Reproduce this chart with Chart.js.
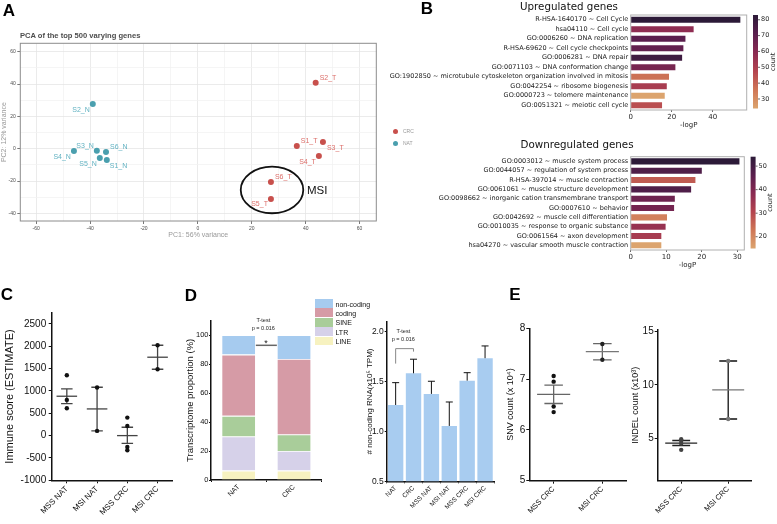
<!DOCTYPE html>
<html>
<head>
<meta charset="utf-8">
<script src="https://cdn.jsdelivr.net/npm/chart.js@4.4.1/dist/chart.umd.min.js"></script>
<style>
html, body { margin: 0; padding: 0; background: #fff; }
#fig { position: relative; width: 777px; height: 524px; overflow: hidden; background: #fff; font-family: 'Liberation Sans', Arial, sans-serif; }
#fig canvas { position: absolute; }
.t { position: absolute; white-space: nowrap; line-height: 1; }
</style>
</head>
<body>
<div id="fig"></div>
<script>
// ---------- data ----------
// A: PCA
const pcaNames = ['S1_N', 'S2_N', 'S3_N', 'S4_N', 'S5_N', 'S6_N', 'S1_T', 'S2_T', 'S3_T', 'S4_T', 'S5_T', 'S6_T'];
const pcaGroup = ['NAT', 'NAT', 'NAT', 'NAT', 'NAT', 'NAT', 'CRC', 'CRC', 'CRC', 'CRC', 'CRC', 'CRC'];
const pcaPC1 = [-33.8, -39.0, -37.5, -46.0, -36.4, -34.1, 36.7, 43.7, 46.4, 44.9, 27.1, 27.1];
const pcaPC2 = [-7.0, 27.6, -1.2, -1.4, -5.8, -2.0, 1.7, 40.8, 4.1, -4.5, -31.1, -20.6];
const pcaXTicks = [-60, -50, -40, -30, -20, -10, 0, 10, 20, 30, 40, 50, 60];
const pcaYTicks = [-40, -30, -20, -10, 0, 10, 20, 30, 40, 50, 60];
const msiEllipse = { pc1: 27.5, pc2: -25.5, r1: 11.6, r2: 14.4 };

// B: enrichment
const upTerms = [
    'R-HSA-1640170 ~ Cell Cycle',
    'hsa04110 ~ Cell cycle',
    'GO:0006260 ~ DNA replication',
    'R-HSA-69620 ~ Cell cycle checkpoints',
    'GO:0006281 ~ DNA repair',
    'GO:0071103 ~ DNA conformation change',
    'GO:1902850 ~ microtubule cytoskeleton organization involved in mitosis',
    'GO:0042254 ~ ribosome biogenesis',
    'GO:0000723 ~ telomere maintenance',
    'GO:0051321 ~ meiotic cell cycle',
];
const upLogP = [53.8, 31.0, 27.0, 26.0, 25.4, 22.1, 19.0, 17.9, 16.9, 15.6];
const upCount = [83, 58, 71, 69, 78, 64, 37, 51, 24, 45];
const upLogPTicks = [0, 20, 40];
const upCountTicks = [30, 40, 50, 60, 70, 80];

const downTerms = [
    'GO:0003012 ~ muscle system process',
    'GO:0044057 ~ regulation of system process',
    'R-HSA-397014 ~ muscle contraction',
    'GO:0061061 ~ muscle structure development',
    'GO:0098662 ~ inorganic cation transmembrane transport',
    'GO:0007610 ~ behavior',
    'GO:0042692 ~ muscle cell differentiation',
    'GO:0010035 ~ response to organic substance',
    'GO:0061564 ~ axon development',
    'hsa04270 ~ vascular smooth muscle contraction',
];
const downLogP = [30.8, 20.2, 18.4, 17.2, 12.6, 12.4, 10.4, 10.0, 8.8, 8.8];
const downCount = [54, 48, 27, 48, 43, 42, 21, 36, 33, 15];
const downLogPTicks = [0, 10, 20, 30];
const downCountTicks = [20, 30, 40, 50];

// C: immune score
const immuneGroups = ['MSS NAT', 'MSI NAT', 'MSS CRC', 'MSI CRC'];
const immunePoints = [[1351, 799, 612], [1075, 105], [403, 216, -254, -328], [2022, 1485]];
const immuneMean = [881, 597, 0, 1754];
const immuneLow = [716, 105, -172, 1485];
const immuneHigh = [1045, 1082, 187, 2022];
const immuneTicks = [-1000, -500, 0, 500, 1000, 1500, 2000, 2500];

// D: transcriptome proportion
const propGroups = ['NAT', 'CRC'];
const propSeries = ['non-coding', 'coding', 'SINE', 'LTR', 'LINE'];
const propNonCoding = [13.4, 16.4];
const propCoding = [42.3, 52.2];
const propSINE = [14.3, 11.4];
const propLTR = [23.5, 13.5];
const propLINE = [6.5, 6.5];
const propTicks = [0, 20, 40, 60, 80, 100];
const propSigLevel = 93;

// D: non-coding RNA
const ncGroups = ['NAT', 'CRC', 'MSS NAT', 'MSI NAT', 'MSS CRC', 'MSI CRC'];
const ncMean = [1.265, 1.583, 1.376, 1.055, 1.509, 1.734];
const ncErrTop = [1.489, 1.724, 1.503, 1.295, 1.589, 1.857];
const ncTicks = [0.5, 1.0, 1.5, 2.0];
const ncBracket = { from: 0, to: 1, top: 1.83, leg: 1.68 };

// E: mutations
const mutGroups = ['MSS CRC', 'MSI CRC'];
const snvPoints = [[7.06, 6.95, 6.46, 6.35], [7.69, 7.38]];
const snvMean = [6.70, 7.54];
const snvLow = [6.52, 7.38];
const snvHigh = [6.88, 7.70];
const snvTicks = [5, 6, 7, 8];
const indelPoints = [[4.9, 4.75, 4.5, 3.9], [12.25, 6.8]];
const indelMean = [4.53, 9.53];
const indelLow = [4.31, 6.8];
const indelHigh = [4.78, 12.25];
const indelTicks = [5, 10, 15];

// ---------- styles ----------
const SANS = "'Liberation Sans', Arial, sans-serif";
const DEJAVU = "'DejaVu Sans', sans-serif";
const pcaColors = { NAT: '#4a9fae', CRC: '#c8504c' };
const pcaLabelColors = { NAT: '#62b2c2', CRC: '#dc6f6a' };
// dx, dy, side of the text label for each sample
const pcaLabelPlace = {
    S1_N: [3, 6, 'l'], S2_N: [-3, 6, 'r'], S3_N: [-3, -5, 'r'], S4_N: [-3, 6, 'r'],
    S5_N: [-3, 6, 'r'], S6_N: [4, -5, 'l'], S1_T: [4, -5, 'l'], S2_T: [4, -5, 'l'],
    S3_T: [4, 6, 'l'], S4_T: [-3, 6, 'r'], S5_T: [-3, 5, 'r'], S6_T: [4, -5, 'l'],
};
const countStops = [[0, '#dca46e'], [0.2, '#cf7656'], [0.4, '#b4444f'], [0.6, '#8a2a52'], [0.8, '#5a1f4e'], [1, '#2c1a38']];
const propColors = { 'non-coding': '#a6cbef', coding: '#d69ba6', SINE: '#a9cd9a', LTR: '#d6d1e9', LINE: '#f7f2c0' };
const ncColor = '#a8ccf0';

Chart.defaults.font.family = SANS;
Chart.defaults.animation = false;
Chart.defaults.plugins.legend.display = false;
Chart.defaults.plugins.tooltip.enabled = false;

const fig = document.getElementById('fig');

function makeCanvas(left, top, w, h) {
    const c = document.createElement('canvas');
    c.width = w;
    c.height = h;
    c.style.left = left + 'px';
    c.style.top = top + 'px';
    c.style.width = w + 'px';
    c.style.height = h + 'px';
    fig.appendChild(c);
    return c;
}

function addText(str, x, y, font, color, anchor) {
    const d = document.createElement('div');
    d.className = 't';
    d.textContent = str;
    const tx = anchor === 'start' ? '0' : anchor === 'end' ? '-100%' : '-50%';
    d.style.left = x + 'px';
    d.style.top = y + 'px';
    d.style.transform = `translate(${tx},-50%)`;
    d.style.font = font;
    d.style.color = color || '#000';
    fig.appendChild(d);
    return d;
}

function tickAt(values) {
    return scale => {
        scale.ticks = values.map(v => ({ value: v }));
    };
}

function hexToRgb(h) {
    return [1, 3, 5].map(i => parseInt(h.slice(i, i + 2), 16));
}

function cmap(t) {
    t = Math.max(0, Math.min(1, t));
    for (let i = 1; i < countStops.length; i++) {
        const [t1, c1] = countStops[i];
        const [t0, c0] = countStops[i - 1];
        if (t <= t1) {
            const f = (t - t0) / (t1 - t0);
            const a = hexToRgb(c0), b = hexToRgb(c1);
            return `rgb(${a.map((v, k) => Math.round(v + (b[k] - v) * f)).join(',')})`;
        }
    }
    return countStops[countStops.length - 1][1];
}

function fixedArea(w, h, box) {
    return {
        layout: { padding: { left: 0, top: box.top, right: w - box.right, bottom: 0 } },
        fitY: s => { s.width = box.left; },
        fitX: s => { s.height = h - box.bottom; },
    };
}

// ---------- A: PCA ----------
function drawPca() {
    const W = 392, H = 239;
    const box = { left: 20.3, top: 43.3, right: 376.3, bottom: 221 };
    const area = fixedArea(W, H, box);
    const canvas = makeCanvas(0, 0, W, H);

    const datasets = ['NAT', 'CRC'].map(g => ({
        label: g,
        data: pcaNames
            .map((n, i) => ({ x: pcaPC1[i], y: pcaPC2[i], name: n, group: pcaGroup[i] }))
            .filter(p => p.group === g),
        pointRadius: 3,
        pointBackgroundColor: pcaColors[g],
        pointBorderWidth: 0,
        labelColor: pcaLabelColors[g],
    }));

    const gridColor = ctx => (ctx.tick && ctx.tick.value % 20 === 0 ? '#e6e6e6' : '#f3f3f3');
    const tickColor = ctx => (ctx.tick && ctx.tick.value % 20 === 0 ? '#555' : 'rgba(0,0,0,0)');
    const tickFont = { family: SANS, size: 5 };

    const pcaExtras = {
        id: 'pcaExtras',
        afterDraw(chart) {
            const { ctx, chartArea: a, scales: { x, y } } = chart;
            ctx.save();
            ctx.strokeStyle = '#8c8c8c';
            ctx.lineWidth = 1;
            ctx.strokeRect(a.left, a.top, a.right - a.left, a.bottom - a.top);

            ctx.font = `7px ${SANS}`;
            ctx.textBaseline = 'middle';
            chart.data.datasets.forEach((ds, di) => {
                const meta = chart.getDatasetMeta(di);
                ds.data.forEach((p, i) => {
                    const el = meta.data[i];
                    const place = pcaLabelPlace[p.name];
                    ctx.fillStyle = ds.labelColor;
                    ctx.textAlign = place[2] === 'r' ? 'right' : 'left';
                    ctx.fillText(p.name, el.x + place[0], el.y + place[1]);
                });
            });

            const cx = x.getPixelForValue(msiEllipse.pc1);
            const cy = y.getPixelForValue(msiEllipse.pc2);
            const rx = x.getPixelForValue(msiEllipse.pc1 + msiEllipse.r1) - cx;
            const ry = cy - y.getPixelForValue(msiEllipse.pc2 + msiEllipse.r2);
            ctx.beginPath();
            ctx.ellipse(cx, cy, rx, ry, 0, 0, Math.PI * 2);
            ctx.strokeStyle = '#111';
            ctx.lineWidth = 1.8;
            ctx.stroke();
            ctx.restore();
        },
    };

    new Chart(canvas, {
        type: 'scatter',
        data: { datasets },
        options: {
            responsive: false,
            devicePixelRatio: 1,
            layout: area.layout,
            scales: {
                x: {
                    type: 'linear',
                    min: -65.9,
                    max: 66.2,
                    afterFit: area.fitX,
                    afterBuildTicks: tickAt(pcaXTicks),
                    ticks: {
                        font: tickFont,
                        color: '#4d4d4d',
                        padding: 1.5,
                        callback: v => (v % 20 === 0 ? String(v) : ''),
                    },
                    grid: { color: gridColor, tickColor, tickLength: 3, lineWidth: 0.8 },
                    border: { display: false },
                    title: { display: true, text: 'PC1: 56% variance', color: '#999', font: { family: SANS, size: 7 }, padding: 0 },
                },
                y: {
                    type: 'linear',
                    min: -44.7,
                    max: 65.2,
                    afterFit: area.fitY,
                    afterBuildTicks: tickAt(pcaYTicks),
                    ticks: {
                        font: tickFont,
                        color: '#4d4d4d',
                        padding: 1.5,
                        callback: v => (v % 20 === 0 ? String(v) : ''),
                    },
                    grid: { color: gridColor, tickColor, tickLength: 3, lineWidth: 0.8 },
                    border: { display: false },
                    title: { display: true, text: 'PC2: 12% variance', color: '#999', font: { family: SANS, size: 7 }, padding: 0 },
                },
            },
        },
        plugins: [pcaExtras],
    });
}

// ---------- B: enrichment bars ----------
function colorbarPlugin(counts, ticks) {
    const lo = Math.min(...counts);
    const hi = Math.max(...counts);
    return {
        id: 'colorbar',
        afterDraw(chart) {
            const { ctx, chartArea: a } = chart;
            ctx.save();
            ctx.strokeStyle = '#b0b0b0';
            ctx.lineWidth = 1;
            ctx.strokeRect(a.left, a.top, a.right - a.left, a.bottom - a.top);

            const x0 = a.right + 6.3, w = 5, y0 = a.top, y1 = a.bottom - 1.5;
            const g = ctx.createLinearGradient(0, y1, 0, y0);
            countStops.forEach(([t, c]) => g.addColorStop(t, c));
            ctx.fillStyle = g;
            ctx.fillRect(x0, y0, w, y1 - y0);

            ctx.fillStyle = '#262626';
            ctx.strokeStyle = '#262626';
            ctx.lineWidth = 0.7;
            ctx.font = `6.5px ${DEJAVU}`;
            ctx.textAlign = 'left';
            ctx.textBaseline = 'middle';
            ticks.forEach(v => {
                const ty = y1 - (v - lo) / (hi - lo) * (y1 - y0);
                ctx.beginPath();
                ctx.moveTo(x0 + w, ty);
                ctx.lineTo(x0 + w + 2, ty);
                ctx.stroke();
                ctx.fillText(String(v), x0 + w + 3, ty);
            });

            ctx.translate(x0 + 20, (y0 + y1) / 2);
            ctx.rotate(-Math.PI / 2);
            ctx.textAlign = 'center';
            ctx.fillText('count', 0, 0);
            ctx.restore();
        },
    };
}

function drawEnrichment(top, H, box, terms, logP, counts, xMax, xTicks, countTicks) {
    const W = 387;
    const area = fixedArea(W, H, box);
    const canvas = makeCanvas(390, top, W, H);
    const lo = Math.min(...counts);
    const hi = Math.max(...counts);

    new Chart(canvas, {
        type: 'bar',
        data: {
            labels: terms,
            datasets: [{
                data: logP,
                backgroundColor: counts.map(c => cmap((c - lo) / (hi - lo))),
                borderColor: 'rgba(255,255,255,0.5)',
                borderWidth: 0.6,
                barPercentage: 0.78,
                categoryPercentage: 1,
            }],
        },
        options: {
            indexAxis: 'y',
            responsive: false,
            devicePixelRatio: 1,
            layout: area.layout,
            scales: {
                y: {
                    afterFit: area.fitY,
                    ticks: { font: { family: DEJAVU, size: 6.5 }, color: '#1a1a1a', padding: 2.5, autoSkip: false },
                    grid: { display: false, drawTicks: false },
                    border: { display: false },
                },
                x: {
                    type: 'linear',
                    min: 0,
                    max: xMax,
                    afterFit: area.fitX,
                    afterBuildTicks: tickAt(xTicks),
                    ticks: { font: { family: DEJAVU, size: 7 }, color: '#262626', padding: 1 },
                    grid: { drawOnChartArea: false, tickLength: 2, color: '#262626', lineWidth: 0.7 },
                    border: { display: false },
                    title: { display: true, text: '-logP', color: '#262626', font: { family: DEJAVU, size: 7 }, padding: 0 },
                },
            },
        },
        plugins: [colorbarPlugin(counts, countTicks)],
    });
}

// ---------- C / E: dot plots with mean and SEM ----------
function summaryPlugin(means, lows, highs, colors) {
    return {
        id: 'summary',
        beforeDatasetsDraw(chart) {
            const { ctx, scales: { x, y } } = chart;
            ctx.save();
            ctx.lineWidth = 1.3;
            means.forEach((m, i) => {
                const cx = x.getPixelForValue(i);
                const meanHalf = x.getPixelForValue(i + 0.34) - cx;
                const capHalf = x.getPixelForValue(i + 0.19) - cx;
                const yLo = y.getPixelForValue(lows[i]);
                const yHi = y.getPixelForValue(highs[i]);
                const yMean = y.getPixelForValue(m);
                ctx.strokeStyle = colors.bar[i];
                ctx.beginPath();
                ctx.moveTo(cx, yLo);
                ctx.lineTo(cx, yHi);
                ctx.moveTo(cx - capHalf, yLo);
                ctx.lineTo(cx + capHalf, yLo);
                ctx.moveTo(cx - capHalf, yHi);
                ctx.lineTo(cx + capHalf, yHi);
                ctx.stroke();
                ctx.strokeStyle = colors.mean[i];
                ctx.beginPath();
                ctx.moveTo(cx - meanHalf, yMean);
                ctx.lineTo(cx + meanHalf, yMean);
                ctx.stroke();
            });
            ctx.restore();
        },
    };
}

function dotPlot(cfg) {
    const area = fixedArea(cfg.w, cfg.h, cfg.box);
    const canvas = makeCanvas(cfg.left, cfg.top, cfg.w, cfg.h);
    const points = [];
    const pointColors = [];
    cfg.points.forEach((grp, i) => grp.forEach(v => {
        points.push({ x: i, y: v });
        pointColors.push(cfg.pointColors[i]);
    }));

    new Chart(canvas, {
        type: 'scatter',
        data: {
            datasets: [{
                data: points,
                pointRadius: 2.2,
                pointBackgroundColor: pointColors,
                pointBorderWidth: 0,
            }],
        },
        options: {
            responsive: false,
            devicePixelRatio: 1,
            layout: area.layout,
            scales: {
                x: {
                    type: 'linear',
                    min: -0.5,
                    max: cfg.groups.length - 0.5,
                    afterFit: area.fitX,
                    afterBuildTicks: tickAt(cfg.groups.map((g, i) => i)),
                    ticks: {
                        autoSkip: false,
                        minRotation: 45,
                        maxRotation: 45,
                        font: { family: SANS, size: cfg.xFont },
                        color: '#111',
                        padding: 1,
                        callback: v => cfg.groups[v] ?? '',
                    },
                    grid: { drawOnChartArea: false, tickLength: 3, color: '#111' },
                    border: { color: '#111', width: 1.5 },
                },
                y: {
                    type: 'linear',
                    min: cfg.yMin,
                    max: cfg.yMax,
                    afterFit: area.fitY,
                    afterBuildTicks: tickAt(cfg.yTicks),
                    ticks: {
                        font: { family: SANS, size: cfg.yFont },
                        color: '#111',
                        padding: cfg.yPad,
                        callback: v => String(v),
                    },
                    grid: { drawOnChartArea: false, tickLength: 3, color: '#111' },
                    border: { color: '#111', width: 1.5 },
                    title: {
                        display: true,
                        text: cfg.yTitle,
                        color: '#111',
                        font: { family: SANS, size: cfg.titleFont },
                        padding: { top: cfg.titlePad, bottom: 0 },
                    },
                },
            },
        },
        plugins: [summaryPlugin(cfg.mean, cfg.low, cfg.high, cfg.lineColors)],
    });
}

// ---------- D: stacked proportions ----------
function drawProportion() {
    const W = 140, H = 239;
    const box = { left: 26, top: 35.7, right: 136.7, bottom: 195 };
    const area = fixedArea(W, H, box);
    const canvas = makeCanvas(185, 285, W, H);
    const values = { 'non-coding': propNonCoding, coding: propCoding, SINE: propSINE, LTR: propLTR, LINE: propLINE };
    const order = propSeries.slice().reverse();

    const sigPlugin = {
        id: 'sig',
        afterDatasetsDraw(chart) {
            const { ctx, scales: { y } } = chart;
            const meta = chart.getDatasetMeta(chart.data.datasets.length - 1);
            const b0 = meta.data[0], b1 = meta.data[1];
            const yy = y.getPixelForValue(propSigLevel);
            ctx.save();
            ctx.strokeStyle = '#666';
            ctx.lineWidth = 1.5;
            ctx.beginPath();
            ctx.moveTo(b0.x + b0.width / 2, yy);
            ctx.lineTo(b1.x - b1.width / 2, yy);
            ctx.stroke();
            ctx.restore();
        },
    };

    new Chart(canvas, {
        type: 'bar',
        data: {
            labels: propGroups,
            datasets: order.map(name => ({
                label: name,
                data: values[name],
                backgroundColor: propColors[name],
                borderColor: 'rgba(255,255,255,0.55)',
                borderWidth: 0.8,
                barPercentage: 0.62,
                categoryPercentage: 1,
            })),
        },
        options: {
            responsive: false,
            devicePixelRatio: 1,
            layout: area.layout,
            scales: {
                x: {
                    stacked: true,
                    afterFit: area.fitX,
                    ticks: { autoSkip: false, minRotation: 45, maxRotation: 45, font: { family: SANS, size: 7 }, color: '#111', padding: 1 },
                    grid: { drawOnChartArea: false, tickLength: 2, color: '#111' },
                    border: { color: '#111', width: 1.5 },
                },
                y: {
                    stacked: true,
                    min: 0,
                    max: 110,
                    afterFit: area.fitY,
                    afterBuildTicks: tickAt(propTicks),
                    ticks: { font: { family: SANS, size: 7.5 }, color: '#111', padding: 0.5 },
                    grid: { drawOnChartArea: false, tickLength: 2, color: '#111' },
                    border: { color: '#111', width: 1.5 },
                    title: {
                        display: true,
                        text: 'Transcriptome proportion (%)',
                        color: '#111',
                        font: { family: SANS, size: 9.5 },
                        padding: 0,
                    },
                },
            },
        },
        plugins: [sigPlugin],
    });

    // legend
    propSeries.forEach((name, i) => {
        const sw = document.createElement('div');
        sw.style.cssText = `position:absolute;left:315px;top:${299 + i * 9.4}px;width:17.5px;height:8.8px;background:${propColors[name]}`;
        fig.appendChild(sw);
        addText(name, 335.5, 303.6 + i * 9.4, `7px ${SANS}`, '#111', 'start');
    });
}

// ---------- D: non-coding RNA ----------
function drawNonCoding() {
    const W = 135, H = 239;
    const box = { left: 21.7, top: 36.7, right: 129, bottom: 196.3 };
    const area = fixedArea(W, H, box);
    const canvas = makeCanvas(365, 285, W, H);

    const errPlugin = {
        id: 'err',
        afterDatasetsDraw(chart) {
            const { ctx, scales: { y } } = chart;
            const meta = chart.getDatasetMeta(0);
            ctx.save();
            ctx.strokeStyle = '#111';
            ctx.lineWidth = 1;
            meta.data.forEach((bar, i) => {
                const yTop = y.getPixelForValue(ncErrTop[i]);
                ctx.beginPath();
                ctx.moveTo(bar.x, bar.y);
                ctx.lineTo(bar.x, yTop);
                ctx.moveTo(bar.x - 3.5, yTop);
                ctx.lineTo(bar.x + 3.5, yTop);
                ctx.stroke();
            });
            const xa = meta.data[ncBracket.from].x;
            const xb = meta.data[ncBracket.to].x;
            const yt = y.getPixelForValue(ncBracket.top);
            const yl = y.getPixelForValue(ncBracket.leg);
            ctx.strokeStyle = '#888';
            ctx.beginPath();
            ctx.moveTo(xa, yl);
            ctx.lineTo(xa, yt);
            ctx.lineTo(xb, yt);
            ctx.lineTo(xb, yt + 3);
            ctx.stroke();
            ctx.restore();
        },
    };

    new Chart(canvas, {
        type: 'bar',
        data: {
            labels: ncGroups,
            datasets: [{
                data: ncMean,
                backgroundColor: ncColor,
                barPercentage: 0.86,
                categoryPercentage: 1,
            }],
        },
        options: {
            responsive: false,
            devicePixelRatio: 1,
            layout: area.layout,
            scales: {
                x: {
                    afterFit: area.fitX,
                    ticks: { autoSkip: false, minRotation: 45, maxRotation: 45, font: { family: SANS, size: 6.5 }, color: '#111', padding: 1 },
                    grid: { drawOnChartArea: false, tickLength: 2, color: '#111' },
                    border: { color: '#111', width: 1.5 },
                },
                y: {
                    min: 0.5,
                    max: 2.1,
                    afterFit: area.fitY,
                    afterBuildTicks: tickAt(ncTicks),
                    ticks: { font: { family: SANS, size: 8.5 }, color: '#111', padding: 1, callback: v => v.toFixed(1) },
                    grid: { drawOnChartArea: false, tickLength: 2, color: '#111' },
                    border: { color: '#111', width: 1.5 },
                    title: {
                        display: true,
                        text: '# non-coding RNA(x10\u2075 TPM)',
                        color: '#111',
                        font: { family: SANS, size: 8 },
                        padding: { top: 0, bottom: 0 },
                    },
                },
            },
        },
        plugins: [errPlugin],
    });
}

drawPca();
drawEnrichment(0, 129, { left: 240.7, top: 15, right: 356.7, bottom: 110 }, upTerms, upLogP, upCount, 56.6, upLogPTicks, upCountTicks);
drawEnrichment(135, 134, { left: 240.7, top: 21.7, right: 354.3, bottom: 115 }, downTerms, downLogP, downCount, 32, downLogPTicks, downCountTicks);

dotPlot({
    left: 0, top: 285, w: 185, h: 239,
    box: { left: 51.7, top: 27.7, right: 172.7, bottom: 195.3 },
    groups: immuneGroups, points: immunePoints,
    mean: immuneMean, low: immuneLow, high: immuneHigh,
    pointColors: ['#111', '#111', '#111', '#111'],
    lineColors: { bar: ['#444', '#444', '#444', '#444'], mean: ['#444', '#444', '#444', '#444'] },
    yMin: -1000, yMax: 2750, yTicks: immuneTicks,
    yTitle: 'Immune score (ESTIMATE)', titleFont: 11, titlePad: 3.4,
    xFont: 8, yFont: 10, yPad: 2.5,
});

drawProportion();
drawNonCoding();

dotPlot({
    left: 500, top: 285, w: 135, h: 239,
    box: { left: 29.3, top: 43.3, right: 126.7, bottom: 195.7 },
    groups: mutGroups, points: snvPoints,
    mean: snvMean, low: snvLow, high: snvHigh,
    pointColors: ['#111', '#222'],
    lineColors: { bar: ['#666', '#666'], mean: ['#666', '#777'] },
    yMin: 5, yMax: 8, yTicks: snvTicks,
    yTitle: 'SNV count (x 10\u2074)', titleFont: 9, titlePad: 5.6,
    xFont: 7.5, yFont: 10, yPad: 1,
});

dotPlot({
    left: 625, top: 285, w: 152, h: 239,
    box: { left: 32.7, top: 44.6, right: 126.7, bottom: 195.7 },
    groups: mutGroups, points: indelPoints,
    mean: indelMean, low: indelLow, high: indelHigh,
    pointColors: ['#444', '#777'],
    lineColors: { bar: ['#222', '#111'], mean: ['#222', '#777'] },
    yMin: 1, yMax: 15.2, yTicks: indelTicks,
    yTitle: 'INDEL count (x10\u00b3)', titleFont: 9, titlePad: 5.6,
    xFont: 7.5, yFont: 10, yPad: 1,
});

// ---------- text ----------
const letterFont = `bold 17px ${SANS}`;
addText('A', 9, 11, letterFont);
addText('B', 427, 9, letterFont);
addText('C', 7, 295, letterFont);
addText('D', 191, 295.5, letterFont);
addText('E', 515, 295, letterFont);

addText('PCA of the top 500 varying genes', 20, 35, `bold 7.6px ${SANS}`, '#4d4d4d', 'start');
addText('MSI', 307, 190, `11.5px ${SANS}`, '#111', 'start');

['CRC', 'NAT'].forEach((g, i) => {
    const dot = document.createElement('div');
    dot.style.cssText = `position:absolute;left:392.5px;top:${128.5 + i * 12}px;width:5px;height:5px;border-radius:50%;background:${pcaColors[g]}`;
    fig.appendChild(dot);
    addText(g, 403, 131 + i * 12, `5px ${SANS}`, '#999', 'start');
});

addText('Upregulated genes', 569, 5.5, `10.3px ${DEJAVU}`, '#111');
addText('Downregulated genes', 577, 143.5, `10.3px ${DEJAVU}`, '#111');

addText('T-test', 263.3, 320, `5.5px ${SANS}`, '#222');
addText('p = 0.016', 263.3, 328.3, `5.5px ${SANS}`, '#222');
addText('*', 266, 343, `9px ${SANS}`, '#222');
addText('T-test', 403.3, 330.7, `5.5px ${SANS}`, '#222');
addText('p = 0.016', 403.3, 339.3, `5.5px ${SANS}`, '#222');
</script>
</body>
</html>
